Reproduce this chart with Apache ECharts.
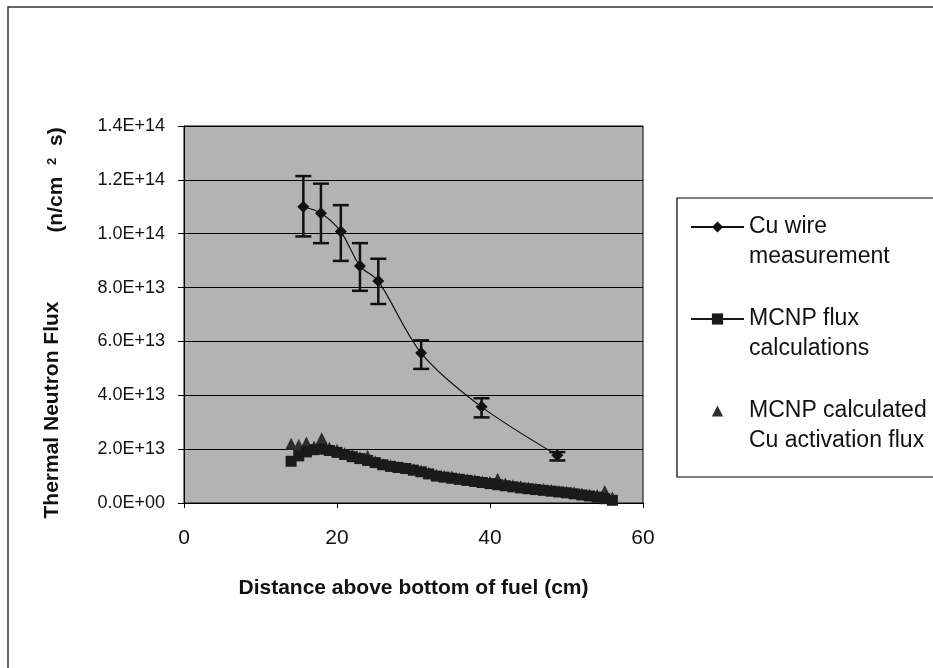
<!DOCTYPE html>
<html>
<head>
<meta charset="utf-8">
<script src="https://cdn.jsdelivr.net/npm/echarts@6/dist/echarts.min.js"></script>
<style>html,body{margin:0;padding:0;background:#fff;}#c{width:933px;height:668px;}</style>
</head>
<body>
<div id="c"></div>
<script>
// Measured Cu wire data
const cuX = [15.6, 17.9, 20.5, 23.0, 25.4, 31.0, 38.9, 48.8];
const cuFlux = [1.10e14, 1.076e14, 1.008e14, 8.80e13, 8.24e13, 5.57e13, 3.57e13, 1.77e13];
const cuErrHigh = [1.214e14, 1.186e14, 1.106e14, 9.65e13, 9.07e13, 6.04e13, 3.89e13, 1.89e13];
const cuErrLow = [0.99e14, 0.965e14, 0.899e14, 7.88e13, 7.39e13, 4.98e13, 3.18e13, 1.58e13];

// MCNP calculations
const mcnpX = [14,15,16,17,18,19,20,21,22,23,24,25,26,27,28,29,30,31,32,33,34,35,36,37,38,39,40,41,42,43,44,45,46,47,48,49,50,51,52,53,54,55,56];
const mcnpFlux = [1.55e13,1.75e13,1.90e13,1.98e13,2.00e13,1.95e13,1.88e13,1.80e13,1.72e13,1.65e13,1.58e13,1.50e13,1.42e13,1.36e13,1.32e13,1.28e13,1.22e13,1.16e13,1.08e13,1.00e13,0.96e13,0.92e13,0.88e13,0.84e13,0.80e13,0.76e13,0.72e13,0.68e13,0.64e13,0.60e13,0.56e13,0.53e13,0.50e13,0.47e13,0.44e13,0.41e13,0.38e13,0.34e13,0.30e13,0.26e13,0.22e13,0.16e13,0.10e13];
const mcnpCuAct = [2.20e13,2.15e13,2.25e13,2.10e13,2.40e13,2.05e13,1.98e13,1.85e13,1.80e13,1.70e13,1.75e13,1.55e13,1.45e13,1.40e13,1.35e13,1.30e13,1.25e13,1.20e13,1.12e13,1.05e13,1.00e13,0.98e13,0.92e13,0.88e13,0.85e13,0.80e13,0.78e13,0.90e13,0.72e13,0.66e13,0.62e13,0.58e13,0.55e13,0.52e13,0.48e13,0.45e13,0.42e13,0.40e13,0.35e13,0.32e13,0.30e13,0.45e13,0.20e13];

const yTickLabels = ['0.0E+00','2.0E+13','4.0E+13','6.0E+13','8.0E+13','1.0E+14','1.2E+14','1.4E+14'];
const xTickLabels = ['0','20','40','60'];

const seriesNames = ['Cu wire\nmeasurement', 'MCNP flux\ncalculations', 'MCNP calculated\nCu activation flux'];

const FONT = '"Liberation Sans", Arial, sans-serif';

const cuData = cuX.map((x, i) => [x, cuFlux[i]]);
const errData = cuX.map((x, i) => [x, cuErrLow[i], cuErrHigh[i]]);
const mcnpData = mcnpX.map((x, i) => [x, mcnpFlux[i]]);
const actData = mcnpX.map((x, i) => [x, mcnpCuAct[i]]);

const chart = echarts.init(document.getElementById('c'), null, {renderer: 'canvas'});
chart.setOption({
  animation: false,
  backgroundColor: '#ffffff',
  grid: {
    left: 184, right: 290, top: 126, bottom: 165,
    show: true, backgroundColor: '#b3b3b3', borderColor: '#000', borderWidth: 1
  },
  xAxis: {
    type: 'value', min: 0, max: 60, interval: 20,
    name: 'Distance above bottom of fuel (cm)',
    nameLocation: 'middle', nameGap: 75,
    nameTextStyle: {fontFamily: FONT, fontSize: 21, fontWeight: 'bold', color: '#111'},
    axisLine: {show: true, onZero: false, lineStyle: {color: '#000', width: 1}},
    axisTick: {show: true, inside: false, length: 5, lineStyle: {color: '#000'}},
    axisLabel: {margin: 25, fontFamily: FONT, fontSize: 21, color: '#111',
      formatter: (v) => xTickLabels[Math.round(v / 20)]},
    splitLine: {show: false}
  },
  yAxis: {
    type: 'value', min: 0, max: 1.4e14, interval: 2e13,
    axisLine: {show: true, lineStyle: {color: '#000', width: 1}},
    axisTick: {show: true, inside: false, length: 6, lineStyle: {color: '#000'}},
    axisLabel: {margin: 19, fontFamily: FONT, fontSize: 18, color: '#111',
      formatter: (v) => yTickLabels[Math.round(v / 2e13)]},
    splitLine: {show: true, lineStyle: {color: '#000', width: 1}}
  },
  legend: {
    data: seriesNames,
    orient: 'vertical', left: 685, top: 177, itemGap: 2,
    itemWidth: 53, itemHeight: 14,
    formatter: (name) => '\n' + name,
    textStyle: {fontFamily: FONT, fontSize: 23, lineHeight: 30, color: '#111'},
    selectedMode: false
  },
  graphic: [
    {type: 'rect', z: -1, shape: {x: 677, y: 198, width: 300, height: 279},
      style: {fill: '#fff', stroke: '#000', lineWidth: 1.2}},
    {type: 'polyline', shape: {points: [[8, 668], [8, 7], [933, 7]]},
      style: {fill: null, stroke: '#333', lineWidth: 1.5}},
    {type: 'text', x: 52, y: 410, rotation: Math.PI / 2,
      style: {text: 'Thermal Neutron Flux', fontFamily: FONT, fontSize: 21, fontWeight: 'bold',
        fill: '#111', align: 'center', verticalAlign: 'middle'}},
    {type: 'text', x: 56, y: 180, rotation: Math.PI / 2,
      style: {text: '(n/cm  {s|2}  s)', fontFamily: FONT, fontSize: 21, fontWeight: 'bold',
        fill: '#111', align: 'center', verticalAlign: 'middle',
        rich: {s: {fontFamily: FONT, fontSize: 13, fontWeight: 'bold', fill: '#111', verticalAlign: 'top', padding: [0, 0, 8, 0]}}}}
  ],
  series: [
    {
      name: seriesNames[2], type: 'line', data: actData,
      symbol: 'triangle', symbolSize: 12, showSymbol: true,
      lineStyle: {opacity: 0, width: 0},
      itemStyle: {color: '#2e2e2e'}, z: 3
    },
    {
      name: seriesNames[1], type: 'line', data: mcnpData,
      symbol: 'rect', symbolSize: 11, showSymbol: true,
      lineStyle: {color: '#1a1a1a', width: 1},
      itemStyle: {color: '#1a1a1a'}, z: 4
    },
    {
      name: 'err', type: 'custom', data: errData, z: 5,
      renderItem: function (params, api) {
        const x = api.value(0);
        const lo = api.coord([x, api.value(1)]);
        const hi = api.coord([x, api.value(2)]);
        const hw = 8;
        return {
          type: 'group',
          children: [
            {type: 'line', shape: {x1: lo[0], y1: lo[1], x2: hi[0], y2: hi[1]}, style: {stroke: '#111', lineWidth: 2.5}},
            {type: 'line', shape: {x1: lo[0] - hw, y1: lo[1], x2: lo[0] + hw, y2: lo[1]}, style: {stroke: '#111', lineWidth: 2.5}},
            {type: 'line', shape: {x1: hi[0] - hw, y1: hi[1], x2: hi[0] + hw, y2: hi[1]}, style: {stroke: '#111', lineWidth: 2.5}}
          ]
        };
      }
    },
    {
      name: seriesNames[0], type: 'line', data: cuData, smooth: 0.3,
      symbol: 'diamond', symbolSize: 12,
      lineStyle: {color: '#111', width: 1.2},
      itemStyle: {color: '#111'}, z: 6
    }
  ]
});
</script>
</body>
</html>
